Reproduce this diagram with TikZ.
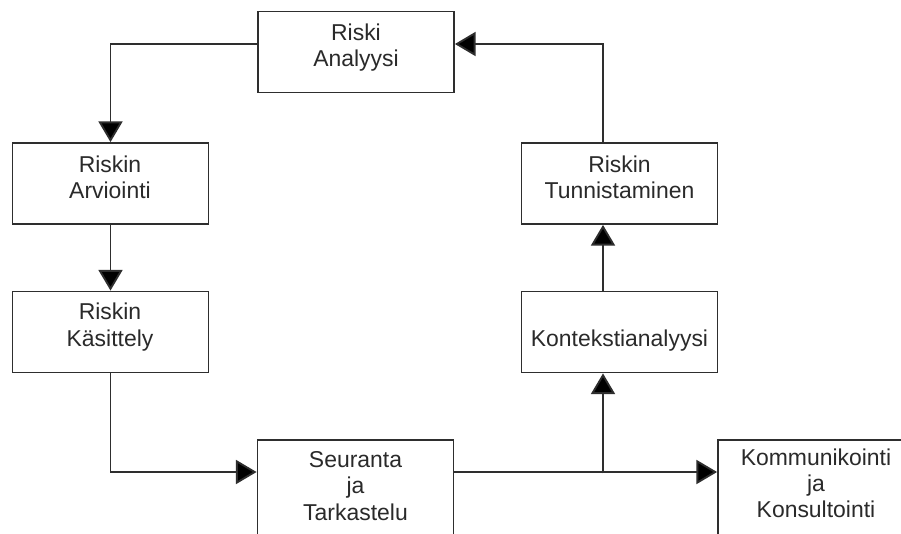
\documentclass[tikz,border=0pt]{standalone}
\usepackage{fontspec}
\setmainfont{Liberation Sans}
\usetikzlibrary{arrows.meta,calc}
\definecolor{ln}{HTML}{2E2E2E}
\definecolor{tx}{HTML}{2A2A2A}
\begin{document}
\begin{tikzpicture}[x=0.75pt,y=-0.75pt,
  box/.style={draw=ln,line width=1.4pt,fill=white,minimum width=196*0.75pt,minimum height=81*0.75pt,inner sep=0pt},
  tallbox/.style={box,minimum height=110*0.75pt},
  lbl/.style={text=tx,align=center,inner sep=0pt,font=\fontsize{17.2pt}{19.6pt}\selectfont},
  arr/.style={draw=ln,line width=1.4pt,-{Triangle[length=15.5pt,width=18pt,fill=black]}},
  con/.style={draw=ln,line width=1.4pt}]
\useasboundingbox (0,0) rectangle (901,533);
\clip (0,0) rectangle (901,533);
\fill[white] (0,0) rectangle (901,533);
% boxes
\node[box] (ra) at (356,52) {};
\node[box] (arv) at (110.5,183.5) {};
\node[box] (kas) at (110.5,332) {};
\node[box] (tun) at (619.5,183.5) {};
\node[box] (kon) at (619.5,332) {};
\node[tallbox] (seu) at (355.5,495) {};
\node[tallbox] (kom) at (816,495) {};
% texts
\node[lbl] (ra-t) at (356,47.5) {Riski\\Analyysi};
\node[lbl] (arv-t) at (110,177) {Riskin\\Arviointi};
\node[lbl] (kas-t) at (110,327) {Riskin\\Käsittely};
\node[lbl] (tun-t) at (619.5,177) {Riskin\\Tunnistaminen};
\node[lbl] (kon-t) at (619.5,341) {Kontekstianalyysi};
\node[lbl] (seu-t) at (355.5,486) {Seuranta\\ja\\Tarkastelu};
\node[lbl] (kom-t) at (816,483) {Kommunikointi\\ja\\Konsultointi};
% connectors
\draw[arr] ($(ra.west)+(0,-8)$) -| (arv.north);
\draw[arr] (arv.south) -- (kas.north);
\draw[arr] (kas.south) |- ($(seu.west)+(0,-23)$);
\draw[arr] ($(seu.east)+(0,-23)$) -- ($(kom.west)+(0,-23)$);
\coordinate (j) at ($(kon.south)+(-16.5,100)$);
\draw[arr] (j) -- ($(kon.south)+(-16.5,0)$);
\draw[arr] ($(kon.north)+(-16.5,0)$) -- ($(tun.south)+(-16.5,0)$);
\draw[arr] ($(tun.north)+(-16.5,0)$) |- ($(ra.east)+(0,-8)$);
\end{tikzpicture}
\end{document}
